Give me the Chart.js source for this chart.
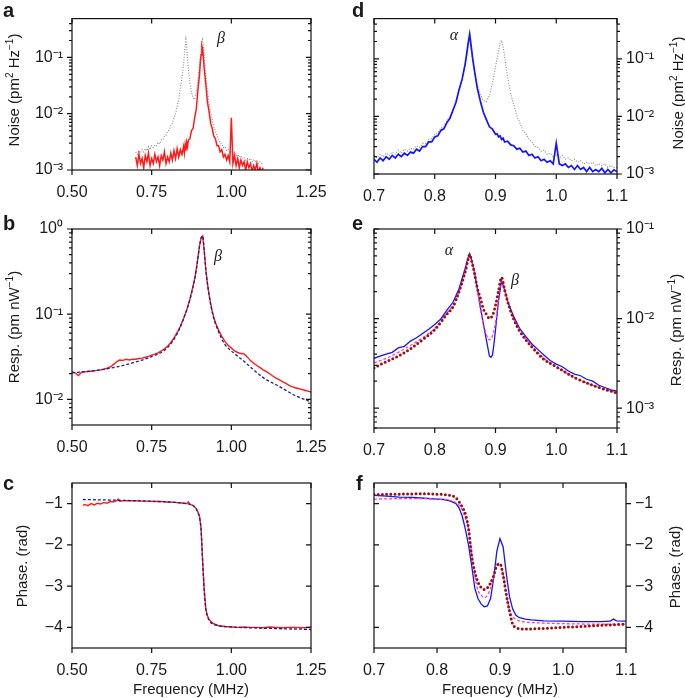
<!DOCTYPE html>
<html>
<head>
<meta charset="utf-8">
<script src="https://cdn.jsdelivr.net/npm/chart.js@4.4.0/dist/chart.umd.min.js"></script>
<style>
  body { margin: 0; background: #fff; }
  #wrap { position: relative; width: 685px; height: 698px; font-family: "Liberation Sans", Arial, sans-serif; color: #1a1a1a; }
  canvas { position: absolute; left: 0; top: 0; }
  .lbl { position: absolute; font-size: 15px; white-space: nowrap; transform: translate(-50%, -50%); }
  .rot { transform: translate(-50%, -50%) rotate(-90deg); }
  .pl { position: absolute; font-weight: bold; font-size: 20px; line-height: 20px; }
  .gr { position: absolute; font-family: "Liberation Serif", serif; font-style: italic; font-size: 16px; transform: translate(-50%, -50%); }
  sup { font-size: 10px; vertical-align: 6px; line-height: 0; }
</style>
</head>
<body>
<div id="wrap">
  <canvas id="ca" width="685" height="698"></canvas>
  <canvas id="cb" width="685" height="698"></canvas>
  <canvas id="cc" width="685" height="698"></canvas>
  <canvas id="cd" width="685" height="698"></canvas>
  <canvas id="ce" width="685" height="698"></canvas>
  <canvas id="cf" width="685" height="698"></canvas>

  <div class="pl" style="left:3px;top:0px">a</div>
  <div class="pl" style="left:3px;top:213px">b</div>
  <div class="pl" style="left:3px;top:473px">c</div>
  <div class="pl" style="left:352px;top:0px">d</div>
  <div class="pl" style="left:352px;top:213px">e</div>
  <div class="pl" style="left:356px;top:473px">f</div>

  <div class="lbl rot" style="left:13px;top:90px">Noise (pm<sup>2</sup> Hz<sup>−1</sup>)</div>
  <div class="lbl rot" style="left:13px;top:327px">Resp. (pm nW<sup>−1</sup>)</div>
  <div class="lbl rot" style="left:21px;top:566px">Phase. (rad)</div>
  <div class="lbl rot" style="left:677px;top:93px">Noise (pm<sup>2</sup> Hz<sup>−1</sup>)</div>
  <div class="lbl rot" style="left:675px;top:330px">Resp. (pm nW<sup>−1</sup>)</div>
  <div class="lbl rot" style="left:674px;top:567px">Phase. (rad)</div>
  <div class="lbl" style="left:191px;top:688px">Frequency (MHz)</div>
  <div class="lbl" style="left:500px;top:688px">Frequency (MHz)</div>

  <div class="gr" style="left:221px;top:38px">β</div>
  <div class="gr" style="left:454px;top:35px">α</div>
  <div class="gr" style="left:218px;top:256px">β</div>
  <div class="gr" style="left:449px;top:250px">α</div>
  <div class="gr" style="left:515px;top:280px">β</div>
</div>
<script>
// ---- noise spectra (panels a, d) ----
const freqNoise = [
  0.700,0.705,0.710,0.715,0.720,0.725,0.730,0.735,0.740,0.745,
  0.750,0.755,0.760,0.765,0.770,0.775,0.780,0.785,0.790,0.795,
  0.800,0.805,0.810,0.815,0.820,0.825,0.830,0.835,0.840,0.845,
  0.850,0.8525,0.855,0.8575,0.860,0.8625,0.865,
  0.870,0.875,0.880,0.885,0.890,0.895,0.900,
  0.9025,0.905,0.9075,0.910,0.9125,0.915,
  0.920,0.925,0.930,0.935,0.940,0.945,0.950,0.955,0.960,0.965,
  0.970,0.975,0.980,0.985,0.990,0.995,1.000,1.005,1.010,1.015,
  1.020,1.025,1.030,1.035,1.040,1.045,1.050,1.055,1.060,1.065,
  1.070,1.075,1.080,1.085,1.090,1.095,1.100
];
const noiseBoth = [
  0.0021,0.0019,0.0022,0.0020,0.0023,0.0021,0.0024,0.0022,0.0026,0.0023,
  0.0027,0.0025,0.0028,0.0027,0.0031,0.0029,0.0034,0.0034,0.0040,0.0041,
  0.0048,0.0052,0.0062,0.0068,0.0084,0.0100,0.0135,0.0185,0.029,0.043,
  0.075,0.11,0.16,0.21,0.15,0.095,0.064,
  0.036,0.024,0.019,0.018,0.023,0.038,0.072,
  0.10,0.135,0.19,0.21,0.16,0.11,
  0.047,0.025,0.016,0.0105,0.0078,0.0058,0.0050,0.0040,0.0036,0.0030,
  0.0029,0.0025,0.0026,0.0022,0.0023,0.0020,0.0022,0.0019,0.0021,0.0018,
  0.0019,0.0017,0.0018,0.0016,0.0017,0.0015,0.0016,0.0015,0.0016,0.0014,
  0.0015,0.0014,0.0015,0.0013,0.0014,0.0013,0.0013
];
const noiseBeta = [
  0.0017,0.0012,0.0019,0.0013,0.0016,0.0011,0.0018,0.0014,0.0020,0.0012,
  0.0016,0.0013,0.0019,0.0014,0.0017,0.0012,0.0018,0.0015,0.0021,0.0013,
  0.0017,0.0014,0.0020,0.0015,0.0022,0.0016,0.0024,0.0017,0.0023,0.0019,
  0.0026,0.0020,0.0028,0.0022,0.0031,0.0026,0.0034,
  0.0036,0.0050,0.0055,0.0085,0.012,0.026,0.048,
  0.078,0.11,0.16,0.14,0.095,0.062,
  0.033,0.016,0.011,0.0068,0.0055,0.0040,0.0036,0.0027,0.0027,0.0021,
  0.0023,0.0017,0.0019,0.0015,0.0018,0.0014,0.0085,0.0013,0.0018,0.0012,
  0.0016,0.0011,0.0015,0.0012,0.0014,0.0010,0.0014,0.0011,0.0013,0.00095,
  0.0012,0.0010,0.0013,0.00092,0.0011,0.00095,0.0011
];
const noiseAlpha = [
  0.0018,0.0016,0.0019,0.0017,0.0020,0.0018,0.0021,0.0019,0.0022,0.0020,
  0.0023,0.0021,0.0024,0.0023,0.0027,0.0025,0.0030,0.0030,0.0036,0.0036,
  0.0044,0.0046,0.0057,0.0061,0.0078,0.0093,0.0128,0.0176,0.029,0.044,
  0.081,0.12,0.19,0.27,0.165,0.10,0.066,
  0.031,0.0185,0.0118,0.0088,0.0066,0.0060,0.0049,
  0.0050,0.0044,0.0046,0.0040,0.0042,0.0036,
  0.0037,0.0032,0.0031,0.0027,0.0028,0.0024,0.0025,0.0021,0.0022,0.0019,
  0.0020,0.0017,0.0018,0.0016,0.0017,0.0015,0.0034,0.0015,0.0014,0.0015,
  0.0013,0.0014,0.0012,0.0014,0.0012,0.0013,0.0011,0.0013,0.0011,0.0012,
  0.0011,0.00125,0.00105,0.0012,0.00105,0.00118,0.0011
];

// ---- panel b: response of beta mode ----
const freqB = [
  0.50,0.51,0.52,0.53,0.54,0.55,0.56,0.57,0.58,0.59,
  0.60,0.61,0.62,0.63,0.64,0.65,0.66,0.67,0.68,0.69,
  0.70,0.71,0.72,0.73,0.74,0.75,0.76,0.77,0.78,0.79,
  0.80,0.81,0.82,0.83,0.84,0.85,0.86,0.87,0.88,
  0.885,0.89,0.895,0.90,0.905,0.91,0.915,0.92,0.925,0.93,0.935,
  0.94,0.95,0.96,0.97,0.98,0.99,
  1.00,1.01,1.02,1.03,1.04,1.05,1.06,1.07,1.08,1.09,
  1.10,1.11,1.12,1.13,1.14,1.15,1.16,1.17,1.18,1.19,
  1.20,1.21,1.22,1.23,1.24,1.25
];
const respB = [
  0.0212,0.0205,0.0190,0.0208,0.0210,0.0212,0.0214,0.0216,0.0219,0.0222,
  0.0226,0.0232,0.0240,0.0256,0.0276,0.0290,0.0287,0.0295,0.0290,0.0297,
  0.0296,0.0302,0.0305,0.0312,0.0320,0.0330,0.0340,0.0352,0.0370,0.0392,
  0.0420,0.0465,0.0525,0.0610,0.0720,0.0890,0.112,0.150,0.215,
  0.26,0.34,0.46,0.63,0.78,0.83,0.55,0.33,0.23,0.17,0.135,
  0.108,0.080,0.065,0.055,0.048,0.043,
  0.040,0.037,0.0355,0.0345,0.0342,0.0315,0.0285,0.0265,0.0250,0.0236,
  0.0222,0.0212,0.0200,0.0188,0.0178,0.0170,0.0162,0.0155,0.0147,0.0141,
  0.0137,0.0134,0.0131,0.0128,0.0125,0.0122
];
const freqBFit = [0.50,0.55,0.60,0.65,0.70,0.75,0.80,0.83,0.85,0.87,0.88,0.89,0.90,0.905,0.91,0.915,0.92,0.93,0.94,0.96,0.98,1.00,1.03,1.06,1.10,1.15,1.20,1.25];
const respBFit = [0.0205,0.0213,0.0225,0.0245,0.0275,0.0318,0.0405,0.0590,0.088,0.148,0.21,0.33,0.62,0.78,0.83,0.56,0.33,0.17,0.105,0.062,0.044,0.037,0.030,0.024,0.018,0.0142,0.0111,0.0093];

// ---- panel c: phase of beta mode ----
const freqC = [
  0.534,0.54,0.55,0.56,0.57,0.58,0.59,0.60,0.61,0.62,
  0.63,0.64,0.645,0.65,0.66,0.68,0.70,0.72,0.74,0.76,
  0.78,0.80,0.82,0.84,0.85,0.86,0.865,0.87,0.88,0.89,
  0.895,0.90,0.905,0.91,0.915,0.92,0.925,0.93,0.94,0.95,
  0.96,0.98,1.00,1.02,1.04,1.06,1.08,1.10,1.12,1.14,
  1.16,1.18,1.20,1.22,1.25
];
const phaseC = [
  -1.04,-1.02,-1.05,-1.00,-1.03,-0.99,-1.01,-0.97,-0.99,-0.95,
  -0.96,-0.93,-0.89,-0.94,-0.93,-0.93,-0.93,-0.94,-0.94,-0.95,
  -0.95,-0.96,-0.97,-0.98,-0.99,-1.00,-0.96,-1.02,-1.04,-1.12,
  -1.20,-1.30,-1.60,-2.40,-3.10,-3.55,-3.72,-3.80,-3.89,-3.93,
  -3.96,-3.98,-3.99,-4.00,-3.99,-4.00,-4.00,-4.01,-3.99,-4.00,
  -4.01,-4.00,-4.00,-4.01,-4.00
];
const freqCFit = [0.534,0.60,0.70,0.80,0.85,0.88,0.89,0.895,0.90,0.905,0.91,0.915,0.92,0.925,0.93,0.94,0.96,1.00,1.10,1.25];
const phaseCFit = [-0.90,-0.91,-0.93,-0.96,-0.99,-1.05,-1.13,-1.22,-1.33,-1.62,-2.42,-3.12,-3.56,-3.74,-3.83,-3.91,-3.96,-3.99,-4.02,-4.05];

// ---- panel e: response with both modes ----
const freqE = [
  0.70,0.71,0.72,0.73,0.74,0.75,0.76,0.77,0.78,0.79,
  0.80,0.81,0.82,0.83,0.84,0.845,0.85,0.855,0.8575,0.86,
  0.865,0.87,0.875,0.88,0.885,0.89,0.8925,0.895,0.8975,0.90,
  0.905,0.91,0.915,0.92,0.93,0.94,0.95,0.96,0.97,0.98,
  0.99,1.00,1.01,1.02,1.03,1.04,1.05,1.06,1.07,1.08,
  1.09,1.10
];
const respE = [
  0.0036,0.0038,0.0040,0.0042,0.0047,0.0049,0.0056,0.0061,0.0068,0.0076,
  0.0086,0.0099,0.0124,0.0152,0.0215,0.028,0.036,0.048,0.053,0.047,
  0.034,0.022,0.0135,0.0087,0.0058,0.0038,0.0037,0.0039,0.0052,0.0075,
  0.0158,0.0265,0.021,0.0155,0.0105,0.0077,0.0063,0.0052,0.0045,0.0039,
  0.0034,0.0031,0.0029,0.0026,0.0024,0.0023,0.0021,0.0020,0.0018,0.0017,
  0.0016,0.00155
];
const freqEFit = [0.70,0.72,0.74,0.76,0.78,0.80,0.82,0.83,0.84,0.85,0.855,0.8575,0.86,0.865,0.87,0.875,0.88,0.885,0.89,0.895,0.90,0.905,0.91,0.915,0.92,0.93,0.94,0.96,0.98,1.00,1.03,1.06,1.10];
const respEFitA = [0.0032,0.0036,0.0042,0.0050,0.0061,0.0078,0.0115,0.0142,0.020,0.033,0.046,0.052,0.047,0.034,0.021,0.013,0.0088,0.0066,0.0058,0.0064,0.0090,0.0165,0.027,0.0215,0.0155,0.0100,0.0074,0.0050,0.0036,0.0029,0.0022,0.0018,0.00148];
const respEFitB = [0.0028,0.0033,0.0038,0.0046,0.0058,0.0075,0.0112,0.0135,0.020,0.033,0.046,0.052,0.046,0.033,0.022,0.017,0.0128,0.0112,0.0101,0.0108,0.0140,0.0205,0.0288,0.021,0.0155,0.0098,0.0072,0.0048,0.0035,0.0029,0.0022,0.0018,0.00147];

// ---- panel f: phase with both modes ----
const freqF = [
  0.70,0.72,0.74,0.76,0.78,0.80,0.81,0.82,0.83,0.835,
  0.84,0.845,0.85,0.855,0.86,0.865,0.87,0.875,0.88,0.885,
  0.89,0.895,0.90,0.905,0.91,0.915,0.92,0.925,0.93,0.94,
  0.95,0.97,1.00,1.03,1.06,1.075,1.08,1.085,1.10
];
const phaseF = [
  -0.80,-0.82,-0.84,-0.85,-0.87,-0.89,-0.90,-0.93,-1.00,-1.10,
  -1.30,-1.62,-2.00,-2.50,-3.05,-3.30,-3.43,-3.50,-3.48,-3.30,
  -2.80,-2.15,-1.85,-2.05,-2.70,-3.25,-3.55,-3.70,-3.76,-3.80,
  -3.82,-3.84,-3.85,-3.86,-3.86,-3.85,-3.80,-3.84,-3.85
];
const freqFFit = [0.70,0.74,0.78,0.80,0.82,0.83,0.84,0.845,0.85,0.855,0.86,0.865,0.87,0.875,0.88,0.885,0.89,0.895,0.90,0.905,0.91,0.915,0.92,0.925,0.93,0.94,0.96,1.00,1.05,1.10];
const phaseFFitA = [-0.89,-0.88,-0.88,-0.89,-0.92,-0.98,-1.15,-1.35,-1.60,-2.20,-2.75,-3.10,-3.22,-3.28,-3.22,-3.05,-2.78,-2.50,-2.44,-2.72,-3.20,-3.58,-3.74,-3.80,-3.84,-3.87,-3.89,-3.91,-3.92,-3.92];
const phaseFFitB = [-0.78,-0.77,-0.76,-0.77,-0.80,-0.86,-1.08,-1.25,-1.60,-2.26,-2.65,-2.90,-3.03,-3.08,-3.04,-2.92,-2.74,-2.50,-2.46,-2.74,-3.20,-3.60,-3.92,-4.00,-4.03,-4.04,-4.03,-4.00,-3.96,-3.92];

// ---- axis ticks ----
const ticksWide = [0.50, 0.75, 1.00, 1.25];
const ticksNarrow = [0.7, 0.8, 0.9, 1.0, 1.1];
const ticksNoise = [1e-3, 1e-2, 1e-1];
const ticksRespB = [1e-2, 1e-1, 1];
const ticksRespE = [1e-3, 1e-2, 1e-1];
const ticksPhase = [-4, -3, -2, -1];

const FONT = { family: '"Liberation Sans", Arial, sans-serif', size: 16 };
const TXT = '#1a1a1a';
const SUP = { '-': '⁻', '0': '⁰', '1': '¹', '2': '²', '3': '³' };
const powLabel = v => '10' + String(Math.round(Math.log10(v))).split('').map(c => SUP[c]).join('');
const minusLabel = v => (v < 0 ? '−' : '') + Math.abs(v);

function pts(xs, ys) {
  if (xs.length !== ys.length) throw new Error('length mismatch ' + xs.length + ' vs ' + ys.length);
  return xs.map((x, i) => ({ x: x, y: ys[i] }));
}

// box frame, mirrored inward ticks and log minor ticks
const frameTicks = {
  id: 'frameTicks',
  afterDatasetsDraw(chart, args, opts) {
    const { ctx, chartArea: a } = chart;
    const xs = chart.scales.x, ys = chart.scales.y;
    ctx.save();
    ctx.strokeStyle = '#111';
    ctx.lineWidth = 1.2;
    ctx.strokeRect(a.left, a.top, a.right - a.left, a.bottom - a.top);
    ctx.beginPath();
    xs.ticks.forEach(t => {
      const px = xs.getPixelForValue(t.value);
      ctx.moveTo(px, a.bottom); ctx.lineTo(px, a.bottom + 5);
      ctx.moveTo(px, a.top); ctx.lineTo(px, a.top + 5);
    });
    const out = opts.side === 'left' ? a.left : a.right;
    const inn = opts.side === 'left' ? a.right : a.left;
    const dir = opts.side === 'left' ? -1 : 1;
    const mark = (v, len) => {
      const py = ys.getPixelForValue(v);
      ctx.moveTo(out, py); ctx.lineTo(out + dir * len, py);
      ctx.moveTo(inn, py); ctx.lineTo(inn + dir * len, py);
    };
    ys.ticks.forEach(t => mark(t.value, 5));
    if (ys.type === 'logarithmic') {
      for (let e = Math.floor(Math.log10(ys.min)); e <= Math.ceil(Math.log10(ys.max)); e++) {
        for (let k = 2; k <= 9; k++) {
          const v = k * Math.pow(10, e);
          if (v > ys.min && v < ys.max) mark(v, 3);
        }
      }
    }
    ctx.stroke();
    ctx.restore();
  }
};

// box = [left, top, right, bottom] of the plot area in page pixels
function makePanel(id, box, xCfg, yCfg, side, datasets) {
  const W = 685, H = 698;
  const yWidth = side === 'left' ? box[0] : W - box[2];
  new Chart(document.getElementById(id), {
    type: 'line',
    data: { datasets: datasets },
    options: {
      responsive: false,
      animation: false,
      events: [],
      layout: { padding: {
        left: side === 'left' ? 0 : box[0],
        right: side === 'left' ? W - box[2] : 0,
        top: box[1], bottom: 0 } },
      plugins: { legend: { display: false }, tooltip: { enabled: false }, frameTicks: { side: side } },
      elements: { point: { radius: 0 } },
      scales: {
        x: {
          type: 'linear', position: 'bottom', min: xCfg.min, max: xCfg.max,
          afterBuildTicks: s => { s.ticks = xCfg.ticks.map(v => ({ value: v })); },
          afterFit: s => { s.height = H - box[3]; },
          grid: { display: false, drawTicks: false }, border: { display: false },
          ticks: { font: FONT, color: TXT, padding: 13, maxRotation: 0, autoSkip: false, callback: v => v.toFixed(xCfg.dec) }
        },
        y: {
          type: yCfg.log ? 'logarithmic' : 'linear', position: side, min: yCfg.min, max: yCfg.max,
          afterBuildTicks: s => { s.ticks = yCfg.ticks.map(v => ({ value: v })); },
          afterFit: s => { s.width = yWidth; },
          grid: { display: false, drawTicks: false }, border: { display: false },
          ticks: { font: FONT, color: TXT, padding: 9, autoSkip: false, callback: yCfg.log ? powLabel : minusLabel }
        }
      }
    },
    plugins: [frameTicks]
  });
}

const wideX = { min: 0.5, max: 1.25, ticks: ticksWide, dec: 2 };
const narrowX = { min: 0.7, max: 1.1, ticks: ticksNarrow, dec: 1 };
const phaseY = { min: -4.5, max: -0.5, ticks: ticksPhase, log: false };

const RED = '#ff1a1a', BLUE = '#1414ff', NAVY = '#1f1f8f', GRAY = '#8a8a8a', PINK = '#ff3fb0', MAROON = '#9a1014';
const measured = (data, color, w) => ({ data: data, borderColor: color, borderWidth: w, tension: 0 });
const dashed = (data, color) => ({ data: data, borderColor: color, borderWidth: 1.3, borderDash: [3, 2], cubicInterpolationMode: 'monotone' });
const dotted = (data) => ({ data: data, borderColor: MAROON, borderWidth: 3, borderDash: [0, 4.2], borderCapStyle: 'round', cubicInterpolationMode: 'monotone' });
const grayDots = () => ({ data: pts(freqNoise, noiseBoth), borderColor: GRAY, borderWidth: 1.1, borderDash: [1, 1.6], tension: 0 });

makePanel('ca', [72, 10, 311, 170], wideX, { min: 1e-3, max: 0.49, ticks: ticksNoise, log: true }, 'left', [
  measured(pts(freqNoise, noiseBeta), RED, 1.5),
  grayDots()
]);
makePanel('cd', [374, 10, 617, 174], narrowX, { min: 1e-3, max: 0.5, ticks: ticksNoise, log: true }, 'right', [
  measured(pts(freqNoise, noiseAlpha), BLUE, 1.7),
  grayDots()
]);
makePanel('cb', [72, 229, 311, 425], wideX, { min: 0.005, max: 1, ticks: ticksRespB, log: true }, 'left', [
  dashed(pts(freqBFit, respBFit), NAVY),
  measured(pts(freqB, respB), RED, 1.4)
]);
makePanel('ce', [374, 229, 617, 428], narrowX, { min: 0.0006, max: 0.1, ticks: ticksRespE, log: true }, 'right', [
  dotted(pts(freqEFit, respEFitB)),
  dashed(pts(freqEFit, respEFitA), PINK),
  measured(pts(freqE, respE), BLUE, 1.3)
]);
makePanel('cc', [72, 483, 311, 648], wideX, phaseY, 'left', [
  dashed(pts(freqCFit, phaseCFit), NAVY),
  measured(pts(freqC, phaseC), RED, 1.4)
]);
makePanel('cf', [374, 483, 626, 648], narrowX, phaseY, 'right', [
  dotted(pts(freqFFit, phaseFFitB)),
  dashed(pts(freqFFit, phaseFFitA), PINK),
  measured(pts(freqF, phaseF), BLUE, 1.3)
]);
</script>
</body>
</html>
